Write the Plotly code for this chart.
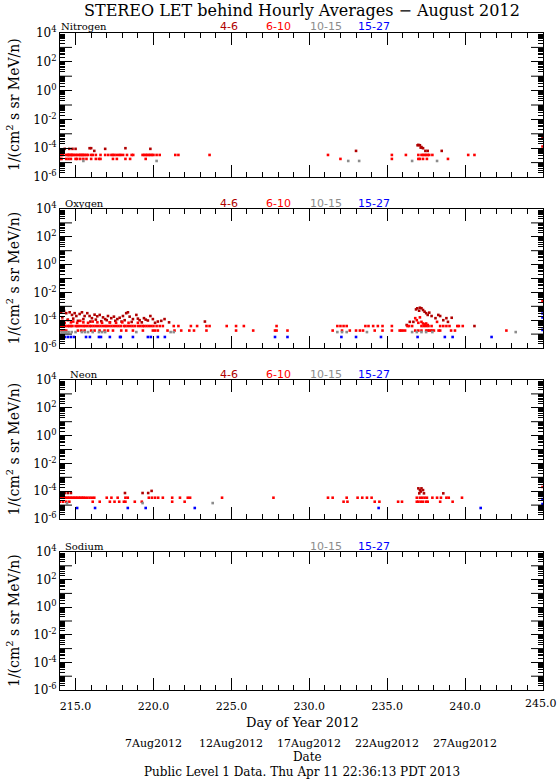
import plotly.graph_objects as go

# ---------------- axis / label data ----------------
X_RANGE = [214, 245]
X_MAJOR_TICKS = [215, 220, 225, 230, 235, 240, 245]
X_TICK_TEXT = ["215.0", "220.0", "225.0", "230.0", "235.0", "240.0", ""]
X_LAST_TICK_TEXT = "245.0"
Y_LOG_RANGE = [-6, 4]
Y_LABEL_DECADES = [-6, -4, -2, 0, 2, 4]
Y_TICK_TEXT = ["10<sup>-6</sup>", "10<sup>-4</sup>", "10<sup>-2</sup>",
               "10<sup>0</sup>", "10<sup>2</sup>", "10<sup>4</sup>"]
Y_ODD_DECADES = [-5, -3, -1, 1, 3]
DATE_TICK_DAYS = [220, 225, 230, 235, 240]
DATE_TICK_LABELS = ["7Aug2012", "12Aug2012", "17Aug2012", "22Aug2012", "27Aug2012"]
PANEL_NAMES = ["Nitrogen", "Oxygen", "Neon", "Sodium"]
ENERGY_LABELS = ["4-6", "6-10", "10-15", "15-27"]
ENERGY_COLORS = ["#b00000", "#ff0000", "#8c8c8c", "#0000ff"]

# ---------------- Nitrogen ----------------
N_46_DAY = [214.30, 214.60, 214.80, 215.00, 215.90, 216.00, 216.20, 216.90,
            218.20, 219.80, 233.00, 236.95, 237.00, 237.10, 237.15, 237.20,
            237.30, 237.45, 237.60, 238.50, 244.97]
N_46_VAL = [9e-5, 9e-5, 9e-5, 9e-5, 1e-4, 1e-4, 6.5e-5, 9e-5,
            1e-4, 9e-5, 6.5e-5, 1.6e-4, 1.7e-4, 1.6e-4, 1.1e-4, 1.2e-4,
            1.0e-4, 6.5e-5, 6.5e-5, 6.5e-5, 6e-4]

N_610_DAY = [214.00, 214.05, 214.10, 214.20, 214.40, 214.50, 214.55, 214.60,
             214.70, 214.75, 214.80, 214.90, 215.00, 215.10, 215.20, 215.30,
             215.35, 215.45, 215.50, 215.60, 215.70, 215.80, 216.00, 216.10,
             216.30, 216.60, 216.90, 217.10, 217.30, 217.40, 217.50, 217.65,
             217.80, 217.90, 218.05, 218.30, 218.60, 218.70, 219.30, 219.40,
             219.50, 219.60, 219.70, 219.80, 219.90, 220.00, 220.20, 220.40,
             221.40, 221.60, 223.60, 231.20, 235.30, 236.20, 237.00, 237.20,
             237.30, 237.40, 237.50, 237.60, 237.70, 237.90, 240.20, 240.60,
             214.00, 214.10, 214.40, 214.55, 214.70, 215.00, 215.10, 215.30,
             215.50, 215.70, 216.00, 216.30, 216.50, 216.60, 217.40, 217.65,
             218.20, 218.50, 219.50, 232.00, 235.30, 237.00, 237.10, 237.30,
             237.55, 238.90, 244.97]
N_610_VAL = [3.4e-5, 3.4e-5, 3.4e-5, 3.4e-5, 3.4e-5, 3.4e-5, 3.4e-5, 3.4e-5,
             3.4e-5, 3.4e-5, 3.4e-5, 3.4e-5, 3.4e-5, 3.4e-5, 3.4e-5, 3.4e-5,
             3.4e-5, 3.4e-5, 3.4e-5, 3.4e-5, 3.4e-5, 3.4e-5, 3.4e-5, 3.4e-5,
             3.4e-5, 3.4e-5, 3.4e-5, 3.4e-5, 3.4e-5, 3.4e-5, 3.4e-5, 3.4e-5,
             3.4e-5, 3.4e-5, 3.4e-5, 3.4e-5, 3.4e-5, 3.4e-5, 3.4e-5, 3.4e-5,
             3.4e-5, 3.4e-5, 3.4e-5, 3.4e-5, 3.4e-5, 3.4e-5, 3.4e-5, 3.4e-5,
             3.4e-5, 3.4e-5, 3.4e-5, 3.4e-5, 3.4e-5, 3.4e-5, 3.4e-5, 3.4e-5,
             3.4e-5, 3.4e-5, 3.4e-5, 3.4e-5, 3.4e-5, 3.4e-5, 3.4e-5, 3.4e-5,
             1.8e-5, 1.8e-5, 1.8e-5, 1.8e-5, 1.8e-5, 1.8e-5, 1.8e-5, 1.8e-5,
             1.8e-5, 1.8e-5, 1.8e-5, 1.8e-5, 1.8e-5, 1.8e-5, 1.8e-5, 1.8e-5,
             1.8e-5, 1.8e-5, 1.8e-5, 1.8e-5, 1.8e-5, 1.8e-5, 1.8e-5, 1.8e-5,
             1.8e-5, 1.8e-5, 1.3e-4]

N_1015_DAY = [215.50, 220.20, 232.50, 233.20, 236.60, 238.20]
N_1015_VAL = [1.3e-5, 1.3e-5, 1.3e-5, 1.3e-5, 1.3e-5, 1.3e-5]

N_1527_DAY = []
N_1527_VAL = []

# ---------------- Oxygen ----------------
O_46_DAY = [214.08, 214.26, 214.40, 214.62, 214.77, 214.94, 215.05, 215.26,
            215.41, 215.58, 215.75, 215.90, 216.05, 216.22, 216.39, 216.55,
            216.76, 216.90, 217.08, 217.29, 217.46, 217.68, 217.83, 218.04,
            218.25, 218.36, 218.47, 218.68, 218.90, 219.11, 219.39, 219.64,
            219.80, 219.96, 220.28, 220.71, 223.30, 236.25, 236.45, 236.68,
            236.85, 236.93, 237.05, 237.10, 237.20, 237.30, 237.40, 237.50,
            237.60, 237.70, 237.85, 238.10, 238.28, 238.40, 238.60, 238.80,
            214.15, 214.50, 214.85, 215.15, 215.50, 215.95, 216.30, 216.65,
            217.00, 217.20, 217.55, 217.95, 218.15, 218.60, 219.00, 219.25,
            219.50, 220.10, 220.50, 221.00,
            238.90, 239.14, 240.60, 244.97, 244.97]
O_46_VAL = [4.1e-4, 4.6e-4, 3.2e-4, 3.7e-4, 2.4e-4, 3.2e-4, 2.0e-4, 2.8e-4,
            3.7e-4, 2.0e-4, 3.2e-4, 2.0e-4, 1.4e-4, 2.5e-4, 1.9e-4, 2.4e-4,
            1.6e-4, 1.2e-4, 2.0e-4, 1.4e-4, 1.8e-4, 1.2e-4, 1.5e-4, 2.0e-4,
            3.2e-4, 3.7e-4, 1.8e-4, 1.2e-4, 2.4e-4, 1.0e-4, 1.4e-4, 9.5e-5,
            2.0e-4, 1.2e-4, 8.0e-5, 1.2e-4, 8.0e-5, 4.5e-5, 7.6e-5, 7.6e-5,
            6.0e-4, 7.2e-4, 4.8e-4, 7.9e-4, 7.2e-4, 5.4e-4, 4.1e-4, 3.2e-4,
            2.4e-4, 3.5e-4, 2.0e-4, 1.4e-4, 2.4e-4, 2.0e-4, 1.0e-4, 1.4e-4,
            1.6e-4, 1.1e-4, 1.3e-4, 9.0e-5, 1.2e-4, 8.0e-5, 1.1e-4, 8.5e-5,
            1.0e-4, 7.0e-5, 9.0e-5, 8.0e-5, 1.0e-4, 7.5e-5, 1.3e-4, 7.0e-5,
            1.1e-4, 6.5e-5, 9.0e-5, 7.0e-5,
            7.6e-5, 1.5e-4, 3.8e-5, 7.0e-4, 7.0e-5]

O_610_DAY = [214.05, 214.15, 214.25, 214.35, 214.50, 214.60, 214.70, 214.80,
             215.00, 215.10, 215.20, 215.35, 215.50, 215.60, 215.75, 215.90,
             216.00, 216.15, 216.30, 216.45, 216.60, 216.75, 216.90, 217.00,
             217.15, 217.30, 217.45, 217.60, 217.75, 217.90, 218.10, 218.20,
             218.35, 218.50, 218.65, 218.80, 219.00, 219.15, 219.30, 219.40,
             219.55, 219.70, 219.85, 220.00, 220.20, 220.40, 220.60, 221.30,
             221.60, 222.40, 222.80, 223.40, 223.60, 224.70, 225.30, 225.80,
             227.90, 231.80, 232.00, 232.20, 232.40, 233.60, 233.80, 234.10,
             234.40, 234.70, 235.30, 236.30, 236.40, 236.60, 237.20, 237.35,
             237.50, 237.65, 237.85, 238.40, 238.60, 238.80, 239.00, 239.50,
             239.60, 239.85,
             214.00, 214.15, 214.30, 214.50, 214.70, 214.85, 215.10, 215.30,
             215.50, 215.80, 216.10, 216.40, 216.70, 217.20, 217.60, 218.00,
             218.40, 219.00,
             236.80, 236.90, 237.00, 237.10, 237.20, 237.30, 237.40, 237.50,
             237.60, 238.20,
             214.10, 214.20, 214.30, 214.40, 215.15, 215.37, 215.58, 216.00,
             216.22, 216.54, 216.86, 217.08, 217.40, 217.93, 218.25, 218.68,
             219.32, 219.96, 220.10, 220.28, 220.90, 221.35, 221.78, 222.30,
             222.60, 223.40, 225.30, 226.40, 227.80, 227.90, 228.60, 231.50,
             232.10, 232.60, 233.00, 233.25, 233.45, 234.20, 234.70, 235.30,
             235.80, 235.90, 236.00, 236.15, 236.80, 237.00, 237.20, 237.50,
             237.60, 237.70, 237.80, 237.90, 238.00, 238.30, 238.40, 239.10,
             239.35, 242.65,
             244.97, 244.97]
O_610_VAL = [3.8e-5, 3.8e-5, 3.8e-5, 3.8e-5, 3.8e-5, 3.8e-5, 3.8e-5, 3.8e-5,
             3.8e-5, 3.8e-5, 3.8e-5, 3.8e-5, 3.8e-5, 3.8e-5, 3.8e-5, 3.8e-5,
             3.8e-5, 3.8e-5, 3.8e-5, 3.8e-5, 3.8e-5, 3.8e-5, 3.8e-5, 3.8e-5,
             3.8e-5, 3.8e-5, 3.8e-5, 3.8e-5, 3.8e-5, 3.8e-5, 3.8e-5, 3.8e-5,
             3.8e-5, 3.8e-5, 3.8e-5, 3.8e-5, 3.8e-5, 3.8e-5, 3.8e-5, 3.8e-5,
             3.8e-5, 3.8e-5, 3.8e-5, 3.8e-5, 3.8e-5, 3.8e-5, 3.8e-5, 3.8e-5,
             3.8e-5, 3.8e-5, 3.8e-5, 3.8e-5, 3.8e-5, 3.8e-5, 3.8e-5, 3.8e-5,
             3.8e-5, 3.8e-5, 3.8e-5, 3.8e-5, 3.8e-5, 3.8e-5, 3.8e-5, 3.8e-5,
             3.8e-5, 3.8e-5, 3.8e-5, 3.8e-5, 3.8e-5, 3.8e-5, 3.8e-5, 3.8e-5,
             3.8e-5, 3.8e-5, 3.8e-5, 3.8e-5, 3.8e-5, 3.8e-5, 3.8e-5, 3.8e-5,
             3.8e-5, 3.8e-5,
             7.0e-5, 9.0e-5, 6.5e-5, 1.0e-4, 7.0e-5, 8.0e-5, 6.5e-5, 9.0e-5,
             7.0e-5, 6.5e-5, 8.0e-5, 7.0e-5, 6.5e-5, 7.0e-5, 6.5e-5, 7.0e-5,
             6.5e-5, 6.5e-5,
             1.4e-4, 1.0e-4, 6.5e-5, 1.6e-4, 7.6e-5, 5.8e-5, 5.0e-5, 5.8e-5,
             4.5e-5, 7.6e-5,
             1.8e-5, 1.8e-5, 1.8e-5, 1.8e-5, 1.8e-5, 1.8e-5, 1.8e-5, 1.8e-5,
             1.8e-5, 1.8e-5, 1.8e-5, 1.8e-5, 1.8e-5, 1.8e-5, 1.8e-5, 1.8e-5,
             1.8e-5, 1.8e-5, 1.8e-5, 1.8e-5, 1.8e-5, 1.8e-5, 1.8e-5, 1.8e-5,
             1.8e-5, 1.8e-5, 1.8e-5, 1.8e-5, 1.8e-5, 1.8e-5, 1.8e-5, 1.8e-5,
             1.8e-5, 1.8e-5, 1.8e-5, 1.8e-5, 1.8e-5, 1.8e-5, 1.8e-5, 1.8e-5,
             1.8e-5, 1.8e-5, 1.8e-5, 1.8e-5, 1.8e-5, 1.8e-5, 1.8e-5, 1.8e-5,
             1.8e-5, 1.8e-5, 1.8e-5, 1.8e-5, 1.8e-5, 1.8e-5, 1.8e-5, 1.8e-5,
             1.8e-5, 1.8e-5,
             5.5e-3, 2.5e-3]

O_1015_DAY = [214.10, 214.25, 214.40, 214.55, 214.75, 215.00, 215.40, 215.60,
              215.80, 216.10, 216.50, 216.70, 216.90, 218.90, 221.10, 221.30,
              231.80, 232.10, 232.40, 233.70, 236.60, 236.90, 237.20, 237.50,
              237.90, 243.25]
O_1015_VAL = [1.4e-5, 1.4e-5, 1.4e-5, 1.4e-5, 1.4e-5, 1.4e-5, 1.4e-5, 1.4e-5,
              1.4e-5, 1.4e-5, 1.4e-5, 1.4e-5, 1.4e-5, 1.4e-5, 1.4e-5, 1.4e-5,
              1.4e-5, 1.4e-5, 1.4e-5, 1.4e-5, 1.4e-5, 1.4e-5, 1.4e-5, 1.4e-5,
              1.4e-5, 1.4e-5]

O_1527_DAY = [214.13, 214.32, 214.51, 214.70, 214.90, 215.67, 215.92, 216.50,
              216.63, 217.20, 217.85, 217.90, 218.68, 219.64, 219.83, 220.28,
              220.73, 227.80, 228.60, 232.06, 233.00, 234.60, 236.95, 238.70,
              239.20, 241.70, 244.97, 244.97, 244.97]
O_1527_VAL = [6.2e-6, 6.2e-6, 6.2e-6, 6.2e-6, 6.2e-6, 6.2e-6, 6.2e-6, 6.2e-6,
              6.2e-6, 6.2e-6, 6.2e-6, 6.2e-6, 6.2e-6, 6.2e-6, 6.2e-6, 6.2e-6,
              6.2e-6, 6.2e-6, 6.2e-6, 6.2e-6, 6.2e-6, 6.2e-6, 6.2e-6, 6.2e-6,
              6.2e-6, 6.2e-6, 3.0e-4, 1.6e-4, 2.0e-5]

# ---------------- Neon ----------------
NE_46_DAY = [214.10, 214.30, 214.50, 214.70, 218.17, 219.30, 219.66, 219.88,
             237.00, 237.06, 237.10, 237.15, 237.20, 237.30, 237.36, 238.60,
             244.97]
NE_46_VAL = [7.4e-5, 7.4e-5, 7.4e-5, 7.4e-5, 7.4e-5, 7.4e-5, 7.4e-5, 1.05e-4,
             1.6e-4, 7.0e-5, 1.2e-4, 9.5e-5, 1.6e-4, 1.2e-4, 7.0e-5, 7.0e-5,
             6.4e-4]

NE_610_DAY = [214.00, 214.10, 214.20, 214.30, 214.40, 214.50, 214.60, 214.70,
              214.80, 214.90, 215.00, 215.10, 215.20, 215.30, 215.40, 215.50,
              215.60, 215.75, 215.90, 216.05, 216.20, 217.00, 217.30, 217.70,
              218.20, 218.35, 219.70, 219.90, 220.10, 220.30, 220.60, 221.20,
              221.70, 222.20, 222.35, 224.40, 227.70, 231.20, 231.50, 232.40,
              233.10, 233.40, 233.70, 234.00, 236.90, 237.10, 237.25, 237.40,
              237.55, 237.90, 238.20, 238.45, 238.80, 238.95, 239.80,
              214.00, 214.20, 214.40, 214.60, 216.10, 216.55, 217.20, 217.50,
              217.80, 218.10, 218.20, 218.80, 219.25, 221.20, 222.00, 232.20,
              232.45, 234.20, 234.50, 235.70, 235.95, 236.90, 237.00, 237.15,
              237.30, 237.50, 237.60, 238.40, 239.20,
              244.97]
NE_610_VAL = [3.4e-5, 3.4e-5, 3.4e-5, 3.4e-5, 3.4e-5, 3.4e-5, 3.4e-5, 3.4e-5,
              3.4e-5, 3.4e-5, 3.4e-5, 3.4e-5, 3.4e-5, 3.4e-5, 3.4e-5, 3.4e-5,
              3.4e-5, 3.4e-5, 3.4e-5, 3.4e-5, 3.4e-5, 3.4e-5, 3.4e-5, 3.4e-5,
              3.4e-5, 3.4e-5, 3.4e-5, 3.4e-5, 3.4e-5, 3.4e-5, 3.4e-5, 3.4e-5,
              3.4e-5, 3.4e-5, 3.4e-5, 3.4e-5, 3.4e-5, 3.4e-5, 3.4e-5, 3.4e-5,
              3.4e-5, 3.4e-5, 3.4e-5, 3.4e-5, 3.4e-5, 3.4e-5, 3.4e-5, 3.4e-5,
              3.4e-5, 3.4e-5, 3.4e-5, 3.4e-5, 3.4e-5, 3.4e-5, 3.4e-5,
              1.75e-5, 1.75e-5, 1.75e-5, 1.75e-5, 1.75e-5, 1.75e-5, 1.75e-5, 1.75e-5,
              1.75e-5, 1.75e-5, 1.75e-5, 1.75e-5, 1.75e-5, 1.75e-5, 1.75e-5, 1.75e-5,
              1.75e-5, 1.75e-5, 1.75e-5, 1.75e-5, 1.75e-5, 1.75e-5, 1.75e-5, 1.75e-5,
              1.75e-5, 1.75e-5, 1.75e-5, 1.75e-5, 1.75e-5,
              2.0e-4]

NE_1015_DAY = [214.45, 219.30, 223.80]
NE_1015_VAL = [1.4e-5, 1.4e-5, 1.4e-5]

NE_1527_DAY = [215.10, 216.25, 218.35, 219.50, 222.65, 234.45, 241.00, 244.97, 244.97]
NE_1527_VAL = [6.2e-6, 6.2e-6, 6.2e-6, 6.2e-6, 6.2e-6, 6.2e-6, 6.2e-6, 2.7e-5, 1.2e-5]

# ---------------- Sodium (no data) ----------------
NA_1015_DAY = []
NA_1015_VAL = []
NA_1527_DAY = []
NA_1527_VAL = []

# ---------------- build figure ----------------
PANEL_SERIES = [
    [(N_46_DAY, N_46_VAL, 0), (N_610_DAY, N_610_VAL, 1), (N_1015_DAY, N_1015_VAL, 2), (N_1527_DAY, N_1527_VAL, 3)],
    [(O_46_DAY, O_46_VAL, 0), (O_610_DAY, O_610_VAL, 1), (O_1015_DAY, O_1015_VAL, 2), (O_1527_DAY, O_1527_VAL, 3)],
    [(NE_46_DAY, NE_46_VAL, 0), (NE_610_DAY, NE_610_VAL, 1), (NE_1015_DAY, NE_1015_VAL, 2), (NE_1527_DAY, NE_1527_VAL, 3)],
    [(NA_1015_DAY, NA_1015_VAL, 2), (NA_1527_DAY, NA_1527_VAL, 3)],
]
PANEL_ENERGY_SHOWN = [[0, 1, 2, 3], [0, 1, 2, 3], [0, 1, 2, 3], [2, 3]]

W, H = 559, 780
ML, MR, MT, MB = 60, 16, 33, 90
PW, PH = W - ML - MR, H - MT - MB
PANEL_TOP_PX = [33, 209, 380, 552]
PANEL_BOT_PX = [177, 348, 519, 690]
ENERGY_X_PX = [229, 278, 326, 374]
FONT = "DejaVu Serif"
MAJOR_LEN = 12
X_LABEL_Y_PX = 703

Y_MINOR_VALS = [k * 10.0 ** d for d in range(-6, 4) for k in range(2, 10)]


def px_x(px):
    return (px - ML) / PW


def px_y(py):
    return (H - MB - py) / PH


fig = go.Figure()
for i, series in enumerate(PANEL_SERIES):
    ax = "" if i == 0 else str(i + 1)
    for days, vals, e in series:
        fig.add_trace(go.Scatter(
            x=days, y=vals, mode="markers", xaxis="x" + ax, yaxis="y" + ax,
            marker=dict(symbol="square", size=2.6, color=ENERGY_COLORS[e], line=dict(width=0)),
            showlegend=False, hoverinfo="skip"))

layout = dict(width=W, height=H, autosize=False,
              margin=dict(l=ML, r=MR, t=MT, b=MB),
              paper_bgcolor="white", plot_bgcolor="white",
              font=dict(family=FONT, color="black", size=12),
              showlegend=False)

annotations = []
shapes = []
for i in range(4):
    ax = "" if i == 0 else str(i + 1)
    y0, y1 = px_y(PANEL_BOT_PX[i]), px_y(PANEL_TOP_PX[i])
    layout["xaxis" + ax] = dict(
        domain=[0, 1], anchor="y" + ax, range=X_RANGE,
        tickmode="array", tickvals=X_MAJOR_TICKS, ticktext=X_TICK_TEXT,
        ticks="inside", ticklen=MAJOR_LEN, tickwidth=1, tickcolor="black",
        showline=True, linecolor="black", linewidth=1, mirror="allticks",
        showgrid=False, zeroline=False,
        minor=dict(tickmode="linear", tick0=214, dtick=1, ticks="inside", ticklen=5,
                   tickwidth=1, tickcolor="black", showgrid=False),
        showticklabels=(i == 3), ticklabelstandoff=6,
        tickfont=dict(family=FONT, size=11))
    layout["yaxis" + ax] = dict(
        domain=[y0, y1], anchor="x" + ax, type="log", range=Y_LOG_RANGE,
        tickmode="array", tickvals=[10.0 ** d for d in Y_LABEL_DECADES], ticktext=Y_TICK_TEXT,
        ticks="inside", ticklen=MAJOR_LEN, tickwidth=1, tickcolor="black",
        showline=True, linecolor="black", linewidth=1, mirror="allticks",
        showgrid=False, zeroline=False,
        minor=dict(tickmode="array", tickvals=Y_MINOR_VALS, ticks="inside", ticklen=5,
                   tickwidth=1, tickcolor="black", showgrid=False),
        tickfont=dict(family=FONT, size=12))
    # long unlabeled ticks at odd decades (left and right sides)
    for d in Y_ODD_DECADES:
        for xa, xb in ((0, MAJOR_LEN / PW), (1 - MAJOR_LEN / PW, 1)):
            shapes.append(dict(type="line", xref="paper", yref="y" + ax, x0=xa, x1=xb,
                               y0=10.0 ** d, y1=10.0 ** d, line=dict(color="black", width=1)))
    # panel name
    annotations.append(dict(xref="paper", yref="paper", x=px_x(84), y=px_y(PANEL_TOP_PX[i] - 6),
                            text=PANEL_NAMES[i], showarrow=False, xanchor="center", yanchor="middle",
                            font=dict(family=FONT, size=10, color="black")))
    for e in PANEL_ENERGY_SHOWN[i]:
        annotations.append(dict(xref="paper", yref="paper", x=px_x(ENERGY_X_PX[e]), y=px_y(PANEL_TOP_PX[i] - 6),
                                text=ENERGY_LABELS[e], showarrow=False, xanchor="center", yanchor="middle",
                                font=dict(family="DejaVu Sans", size=11, color=ENERGY_COLORS[e])))
    # y title
    annotations.append(dict(xref="paper", yref="paper", x=px_x(13),
                            y=px_y((PANEL_TOP_PX[i] + PANEL_BOT_PX[i]) / 2),
                            text="1/(cm<sup>2</sup> s sr MeV/n)", textangle=-90, showarrow=False,
                            xanchor="center", yanchor="middle", font=dict(family=FONT, size=14)))

# last x tick label, kept inside the page
annotations.append(dict(xref="paper", yref="paper", x=px_x(558), y=px_y(X_LABEL_Y_PX),
                        text=X_LAST_TICK_TEXT, showarrow=False, xanchor="right", yanchor="middle",
                        borderpad=0, font=dict(family=FONT, size=11)))
# title
annotations.append(dict(xref="paper", yref="paper", x=px_x(302), y=px_y(10),
                        text="STEREO LET behind Hourly Averages \u2212 August 2012", showarrow=False,
                        xanchor="center", yanchor="middle", font=dict(family=FONT, size=16)))
annotations.append(dict(xref="paper", yref="paper", x=px_x(302), y=px_y(722),
                        text="Day of Year 2012", showarrow=False, xanchor="center", yanchor="middle",
                        font=dict(family=FONT, size=13)))
for d, lab in zip(DATE_TICK_DAYS, DATE_TICK_LABELS):
    annotations.append(dict(xref="x4", yref="paper", x=d, y=px_y(744), text=lab, showarrow=False,
                            xanchor="center", yanchor="middle", font=dict(family=FONT, size=11)))
annotations.append(dict(xref="paper", yref="paper", x=px_x(307), y=px_y(757),
                        text="Date", showarrow=False, xanchor="center", yanchor="middle",
                        font=dict(family=FONT, size=12)))
annotations.append(dict(xref="paper", yref="paper", x=px_x(302), y=px_y(772),
                        text="Public Level 1 Data. Thu Apr 11 22:36:13 PDT 2013", showarrow=False,
                        xanchor="center", yanchor="middle", font=dict(family=FONT, size=12)))
layout["annotations"] = annotations
layout["shapes"] = shapes

fig.update_layout(**layout)
fig.write_html("out.html", config={"displayModeBar": False},
               post_script=("document.body.style.margin='0px';"
                            "document.body.style.overflow='hidden';"
                            "document.documentElement.style.overflow='hidden';"))
